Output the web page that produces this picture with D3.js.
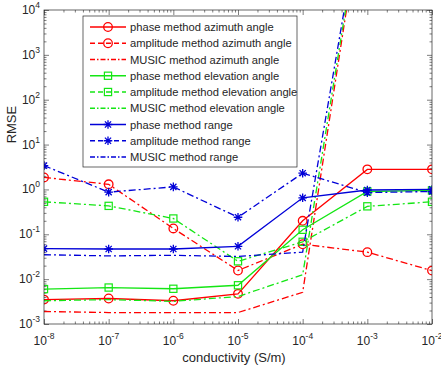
<!DOCTYPE html>
<html>
<head>
<meta charset="utf-8">
<script src="https://cdn.jsdelivr.net/npm/d3@7"></script>
<style>
body { margin: 0; background: #fff; }
text { font-family: "Liberation Sans", Arial, sans-serif; fill: #262626; }
</style>
</head>
<body>
<script>
// conductivity values (S/m) and RMSE series
var conductivity = [1e-8, 1e-7, 1e-6, 1e-5, 1e-4, 1e-3, 1e-2];

var phaseAzimuth     = [0.0035, 0.0037, 0.0033, 0.0047, 0.20, 2.8, 2.8];
var amplitudeAzimuth = [1.85, 1.3, 0.135, 0.0156, 0.06, 0.040, 0.0155];
var musicAzimuth     = [0.0019, 0.0018, 0.0018, 0.0018, 0.0051, 1e7, 1e7];
var phaseElevation     = [0.0060, 0.0065, 0.0061, 0.0073, 0.126, 0.90, 0.95];
var amplitudeElevation = [0.53, 0.43, 0.225, 0.025, 0.068, 0.42, 0.53];
var musicElevation     = [0.0033, 0.0035, 0.0032, 0.0041, 0.0125, 1e7, 1e7];
var phaseRange     = [0.048, 0.047, 0.047, 0.054, 0.65, 0.97, 1.0];
var amplitudeRange = [3.4, 0.87, 1.14, 0.24, 2.3, 0.85, 0.9];
var musicRange     = [0.035, 0.033, 0.034, 0.032, 0.040, 1e7, 1e7];

var seriesNames = [
  "phase method azimuth angle", "amplitude method azimuth angle", "MUSIC method azimuth angle",
  "phase method elevation angle", "amplitude method elevation angle", "MUSIC method elevation angle",
  "phase method range", "amplitude method range", "MUSIC method range"
];
var seriesValues = [phaseAzimuth, amplitudeAzimuth, musicAzimuth,
  phaseElevation, amplitudeElevation, musicElevation,
  phaseRange, amplitudeRange, musicRange];

var xTickExp = [-8, -7, -6, -5, -4, -3, -2];
var yTickExp = [-3, -2, -1, 0, 1, 2, 3, 4];

var red = "#ff0000", green = "#14e614", blue = "#0000d8";
var colors = [red, red, red, green, green, green, blue, blue, blue];
var markers = ["circle", "circle", "none", "square", "square", "none", "star", "star", "none"];
var dashes = [null, "7,3,2,3", "7,3,2,3", null, "7,3,2,3", "7,3,2,3", null, "7,3,2,3", "7,3,2,3"];
var legendDashes = [null, "5,3", "5,2,1.5,2", null, "5,3", "5,2,1.5,2", null, "5,3", "5,2,1.5,2"];

var width = 441, height = 366;
var margin = {left: 44, right: 9, top: 10, bottom: 42};
var plotW = width - margin.left - margin.right;
var plotH = height - margin.top - margin.bottom;

var svg = d3.select("body").append("svg")
  .attr("width", width)
  .attr("height", height);

var x = d3.scaleLog().domain([1e-8, 1e-2]).range([0, plotW]);
var y = d3.scaleLog().domain([1e-3, 1e4]).range([plotH, 0]);

var g = svg.append("g").attr("transform", "translate(" + margin.left + "," + margin.top + ")");

g.append("clipPath").attr("id", "clip")
  .append("rect").attr("width", plotW).attr("height", plotH);

// minor tick values
var xMinor = [], yMinor = [];
for (var e = -8; e < -2; e++) for (var m = 2; m < 10; m++) xMinor.push(m * Math.pow(10, e));
for (var e2 = -3; e2 < 4; e2++) for (var m2 = 2; m2 < 10; m2++) yMinor.push(m2 * Math.pow(10, e2));
var xMajor = xTickExp.map(function(p) { return Math.pow(10, p); });
var yMajor = yTickExp.map(function(p) { return Math.pow(10, p); });

function styleAxis(sel) {
  sel.select(".domain").remove();
  sel.selectAll("line").attr("stroke", "#262626").attr("stroke-width", 0.6);
  sel.selectAll("text").remove();
}

// ticks pointing inward on all four sides
[[d3.axisBottom, "translate(0," + plotH + ")", x],
 [d3.axisTop, "translate(0,0)", x],
 [d3.axisLeft, "translate(0,0)", y],
 [d3.axisRight, "translate(" + plotW + ",0)", y]].forEach(function(a) {
  var isX = a[2] === x;
  g.append("g").attr("transform", a[1])
    .call(a[0](a[2]).tickValues(isX ? xMinor : yMinor).tickSize(-2.5).tickFormat(""))
    .call(styleAxis);
  g.append("g").attr("transform", a[1])
    .call(a[0](a[2]).tickValues(isX ? xMajor : yMajor).tickSize(-5).tickFormat(""))
    .call(styleAxis);
});

// lines
var line = d3.line()
  .x(function(d, i) { return x(conductivity[i]); })
  .y(function(d) { return y(d); });

var plot = g.append("g").attr("clip-path", "url(#clip)");

function drawMarker(sel, type, color, cx, cy) {
  if (type === "circle") {
    sel.append("circle").attr("cx", cx).attr("cy", cy).attr("r", 4.3)
      .attr("fill", "none").attr("stroke", color).attr("stroke-width", 1.3);
  } else if (type === "square") {
    sel.append("rect").attr("x", cx - 3.6).attr("y", cy - 3.6).attr("width", 7.2).attr("height", 7.2)
      .attr("fill", "none").attr("stroke", color).attr("stroke-width", 1.2);
  } else if (type === "star") {
    var r = 4.3, k = r * 0.72;
    var p = "M" + (cx - r) + "," + cy + "h" + (2 * r) +
      "M" + cx + "," + (cy - r) + "v" + (2 * r) +
      "M" + (cx - k) + "," + (cy - k) + "l" + (2 * k) + "," + (2 * k) +
      "M" + (cx - k) + "," + (cy + k) + "l" + (2 * k) + "," + (-2 * k);
    sel.append("path").attr("d", p).attr("stroke", color).attr("stroke-width", 1.3);
  }
}

seriesValues.forEach(function(vals, s) {
  plot.append("path")
    .attr("d", line(vals))
    .attr("fill", "none")
    .attr("stroke", colors[s])
    .attr("stroke-width", 1.3)
    .attr("stroke-dasharray", dashes[s]);
  if (markers[s] !== "none") {
    vals.forEach(function(v, i) {
      drawMarker(plot, markers[s], colors[s], x(conductivity[i]), y(v));
    });
  }
});

// frame
g.append("rect").attr("width", plotW).attr("height", plotH)
  .attr("fill", "none").attr("stroke", "#262626").attr("stroke-width", 0.7);

// tick labels with superscripts
xTickExp.forEach(function(p) {
  var t = g.append("text")
    .attr("x", x(Math.pow(10, p)))
    .attr("y", plotH + 21)
    .attr("text-anchor", "middle")
    .style("font-size", "12px");
  t.append("tspan").text("10");
  t.append("tspan").attr("dy", -6).style("font-size", "8.5px").text(p);
});
yTickExp.forEach(function(p) {
  var t = g.append("text")
    .attr("x", -4)
    .attr("y", y(Math.pow(10, p)) + 4)
    .attr("text-anchor", "end")
    .style("font-size", "12px");
  t.append("tspan").text("10");
  t.append("tspan").attr("dy", -6).style("font-size", "8.5px").text(p);
});

// axis labels
svg.append("text")
  .attr("x", margin.left + plotW / 2 - 4)
  .attr("y", 362)
  .attr("text-anchor", "middle")
  .style("font-size", "13px")
  .text("conductivity (S/m)");
svg.append("text")
  .attr("transform", "translate(16," + (margin.top + y(1e1) - 20) + ") rotate(-90)")
  .attr("text-anchor", "middle")
  .style("font-size", "13px")
  .text("RMSE");

// legend
var leg = svg.append("g").attr("transform", "translate(83,16)");
leg.append("rect").attr("width", 214).attr("height", 151)
  .attr("fill", "#fff").attr("stroke", "#262626").attr("stroke-width", 0.7);
seriesNames.forEach(function(name, s) {
  var ly = 11 + s * 16.25;
  leg.append("line").attr("x1", 7).attr("x2", 43).attr("y1", ly).attr("y2", ly)
    .attr("stroke", colors[s]).attr("stroke-width", 1.3)
    .attr("stroke-dasharray", legendDashes[s]);
  drawMarker(leg, markers[s], colors[s], 25, ly);
  leg.append("text").attr("x", 47).attr("y", ly + 4)
    .style("font-size", "11.2px").text(name);
});
</script>
</body>
</html>
